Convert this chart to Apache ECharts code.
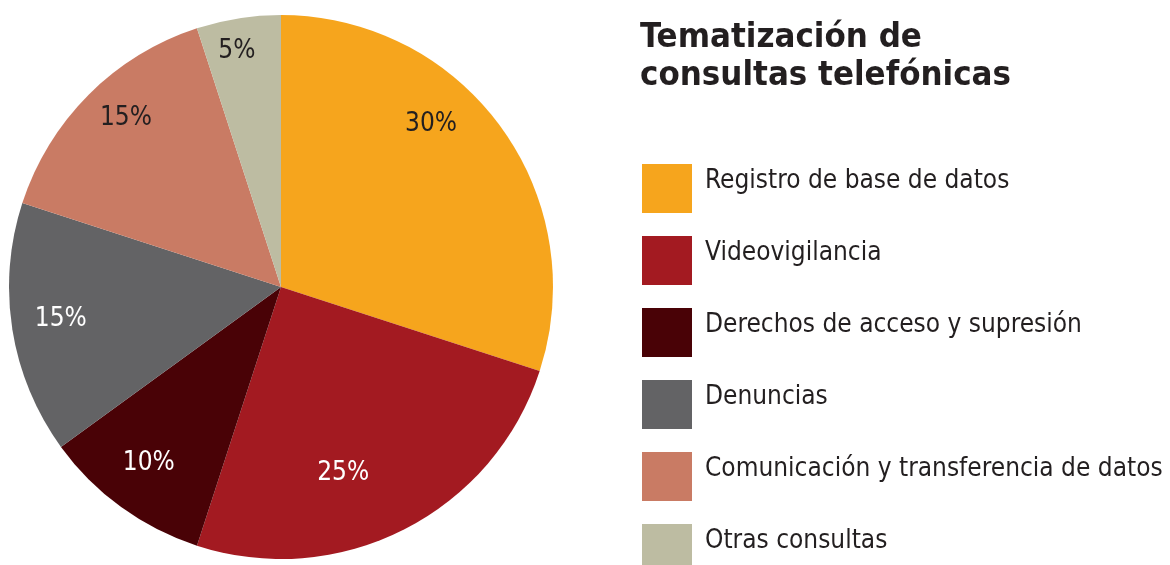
<!DOCTYPE html>
<html lang="es">
<head>
    <meta charset="UTF-8">
    <title>Tematización de consultas telefónicas</title>
    <script src="https://cdn.jsdelivr.net/npm/echarts@6/dist/echarts.min.js"></script>
    <style>
        html, body { margin: 0; padding: 0; background: #fff; }
    </style>
</head>
<body>
<div id="main" style="width: 1170px;height:565px;"></div>
<script type="text/javascript">
    // datos del gráfico
    var categorias = ['Registro de base de datos', 'Videovigilancia', 'Derechos de acceso y supresión',
        'Denuncias', 'Comunicación y transferencia de datos', 'Otras consultas'];
    var porcentajes = [30, 25, 10, 15, 15, 5];
    var colores = ['#F6A51D', '#A31A21', '#490206', '#636365', '#C97B64', '#BDBCA2'];
    var coloresEtiqueta = ['#231F20', '#FFFFFF', '#FFFFFF', '#FFFFFF', '#231F20', '#231F20'];
    // pequeños ajustes de las etiquetas de porcentaje (px)
    var ajustesEtiqueta = [[-32, -30], [-40, -14], [0, -6], [2, -3], [4, -10], [-9, -14]];

    var fuente = '"Liberation Sans Narrow", "DejaVu Sans Condensed", Arial, sans-serif';

    var myChart = echarts.init(document.getElementById('main'));

    var datos = categorias.map(function (c, i) {
        return { name: c, value: porcentajes[i], itemStyle: { color: colores[i] } };
    });
    // serie transparente solo para colocar las etiquetas cerca del borde
    var etiquetas = categorias.map(function (c, i) {
        return {
            name: c, value: porcentajes[i],
            label: { color: coloresEtiqueta[i], offset: ajustesEtiqueta[i] }
        };
    });

    var option = {
        animation: false,
        backgroundColor: '#fff',
        title: {
            text: 'Tematización de\nconsultas telefónicas',
            left: 640,
            top: 19,
            padding: 0,
            textStyle: {
                fontFamily: fuente,
                fontWeight: 'bold',
                fontSize: 34.5,
                lineHeight: 38,
                color: '#231F20'
            }
        },
        legend: {
            orient: 'vertical',
            left: 642,
            top: 164,
            height: 460,
            padding: 0,
            itemWidth: 50,
            itemHeight: 49,
            itemGap: 23,
            icon: 'rect',
            selectedMode: false,
            data: categorias,
            // línea vacía debajo para subir el texto respecto al cuadro
            formatter: function (name) { return name + '\n '; },
            textStyle: {
                fontFamily: fuente,
                fontSize: 26,
                lineHeight: 15,
                color: '#231F20',
                padding: [0, 0, 0, 8]
            }
        },
        series: [
            {
                type: 'pie',
                center: [281, 287],
                radius: [0, 272],
                startAngle: 90,
                clockwise: true,
                silent: true,
                label: { show: false },
                labelLine: { show: false },
                itemStyle: { borderWidth: 0 },
                data: datos
            },
            {
                type: 'pie',
                center: [281, 287],
                radius: [172, 272],
                startAngle: 90,
                clockwise: true,
                silent: true,
                itemStyle: { color: 'rgba(0,0,0,0)' },
                labelLine: { show: false },
                label: {
                    show: true,
                    position: 'inside',
                    formatter: '{c}%',
                    fontFamily: fuente,
                    fontSize: 26
                },
                data: etiquetas
            }
        ]
    };

    myChart.setOption(option);
</script>
</body>
</html>
